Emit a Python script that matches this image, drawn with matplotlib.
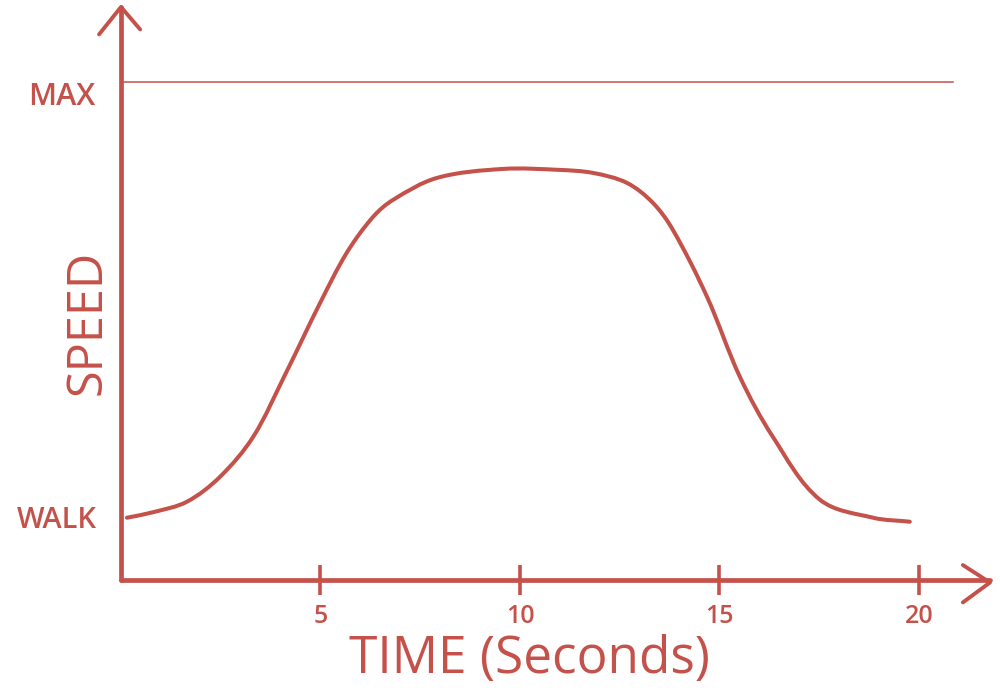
import matplotlib.pyplot as plt
import numpy as np
from matplotlib.path import Path
from matplotlib.patches import PathPatch

# speed sketch: time in seconds, speed in arbitrary units
time = [0.15, 0.8, 1.65, 2.48, 3.31, 4.1, 4.99, 5.66, 6.32, 6.82, 7.92,
        9.57, 11.0, 11.83, 12.68, 13.33, 13.83, 14.69, 15.51, 16.34, 17.52,
        18.85, 19.77]
speed = [1.25, 1.36, 1.57, 2.07, 2.87, 4.1, 5.56, 6.57, 7.29, 7.63, 8.07,
         8.25, 8.23, 8.17, 7.97, 7.57, 7.03, 5.68, 4.08, 2.87, 1.61,
         1.25, 1.17]

max_speed = 10.0
walk_speed = 1.2
x_ticks = [5, 10, 15, 20]
x_tick_labels = ["5", "10", "15", "20"]

red = "#c4514a"
font = "Open Sans"

fig = plt.figure(figsize=(10, 6.99), dpi=100)
ax = fig.add_axes([0.121, 119 / 699, 0.869, 573 / 699])
ax.set_xlim(0, 21.78)
ax.set_ylim(0, 11.5)

# smooth curve through the traced points, tangents scaled by chord length
# (done in display space so both axes weigh the same)
pts = ax.transData.transform(np.column_stack([time, speed]))
n = len(pts)
d = np.linalg.norm(np.diff(pts, axis=0), axis=1)
tang = np.zeros_like(pts)
for i in range(n):
    if i == 0:
        v = pts[1] - pts[0]
    elif i == n - 1:
        v = pts[-1] - pts[-2]
    else:
        v = pts[i + 1] - pts[i - 1]
    tang[i] = v / np.linalg.norm(v)
verts = [pts[0]]
codes = [Path.MOVETO]
for i in range(n - 1):
    verts += [pts[i] + tang[i] * d[i] / 3,
              pts[i + 1] - tang[i + 1] * d[i] / 3, pts[i + 1]]
    codes += [Path.CURVE4] * 3
verts = ax.transData.inverted().transform(np.array(verts))
ax.add_patch(PathPatch(Path(verts, codes), facecolor="none",
                       edgecolor=red, linewidth=2.9, capstyle="round"))

# MAX line
ax.plot([0, 20.85], [max_speed, max_speed], color=red, linewidth=1.1)

# axes with arrow heads
for side in ["top", "right"]:
    ax.spines[side].set_visible(False)
for side in ["left", "bottom"]:
    ax.spines[side].set_color(red)
    ax.spines[side].set_linewidth(3.4)
    ax.spines[side].set_capstyle("round")
ax.plot([-0.55, 0, 0.48], [10.95, 11.5, 11.05], color=red, linewidth=2.8,
        clip_on=False, solid_capstyle="round", solid_joinstyle="round")
ax.plot([21.1, 21.78, 21.1], [0.3, -0.05, -0.45], color=red, linewidth=2.8,
        clip_on=False, solid_capstyle="round", solid_joinstyle="round")

ax.set_xticks(x_ticks)
ax.set_xticklabels(x_tick_labels, fontsize=18, color=red, family=font,
                   fontweight="semibold")
ax.tick_params(axis="x", direction="inout", length=22, width=2.6,
               color=red, pad=6)
ax.set_yticks([])

ax.text(-0.65, max_speed - 0.3, "MAX", color=red, fontsize=22, family=font,
        fontweight="semibold", ha="right", va="center")
ax.text(-0.6, walk_speed, "WALK", color=red, fontsize=21, family=font,
        fontweight="semibold", ha="right", va="center")
ax.set_ylabel("SPEED", color=red, fontsize=35, family=font)
ax.set_xlabel("TIME (Seconds)", color=red, fontsize=37, family=font)
ax.xaxis.set_label_coords(0.47, -0.095)
ax.yaxis.set_label_coords(-0.01, 0.45)

fig.savefig("out.png", dpi=100)
